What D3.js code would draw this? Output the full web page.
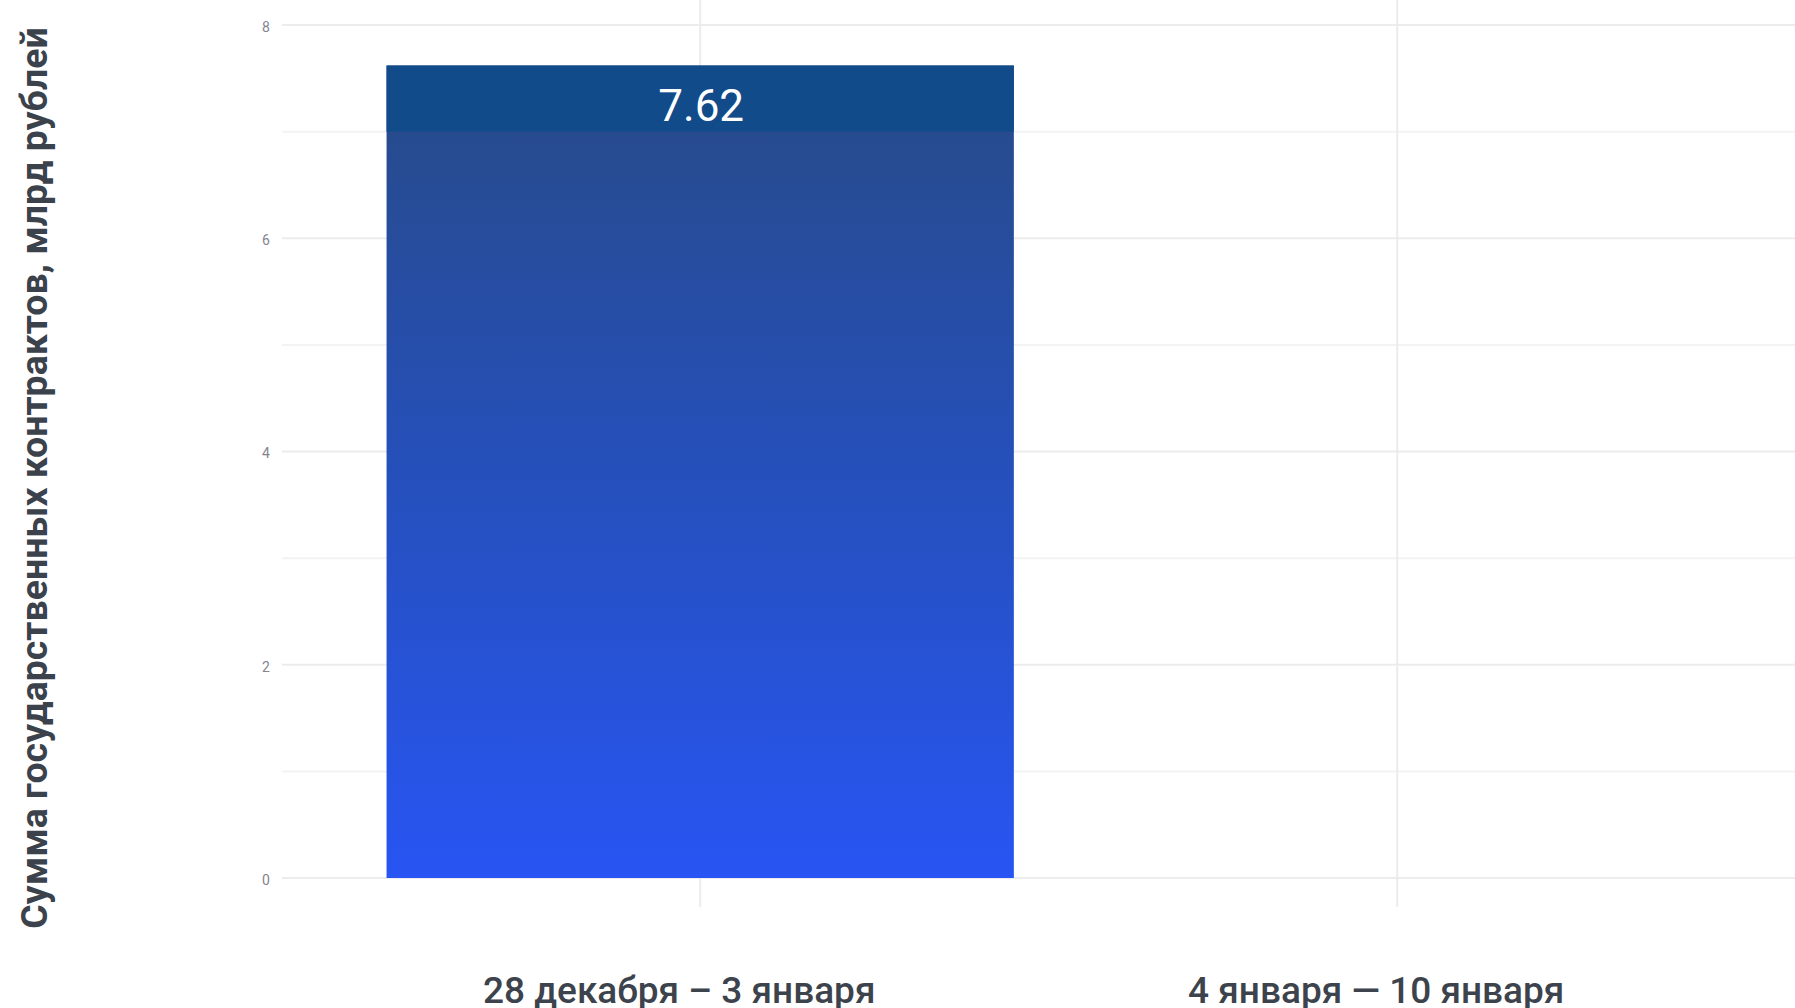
<!DOCTYPE html>
<html><head><meta charset="utf-8">
<script src="https://cdn.jsdelivr.net/npm/d3@7/dist/d3.min.js"></script>
<style>
html,body{margin:0;padding:0;background:#fff;overflow:hidden;}
svg{display:block;}
</style></head>
<body>
<script>
const categories = ["28 декабря – 3 января", "4 января — 10 января"];
const values = [7.62, 0];
const valueLabels = ["7.62", ""];
const yTicks = [0, 2, 4, 6, 8];
const yMinorTicks = [1, 3, 5, 7];
const yTitle = "Сумма государственных контрактов, млрд рублей";
const darkBandFrom = 7;

const W = 1795, H = 1008;
const svg = d3.select("body").append("svg").attr("width", W).attr("height", H);

const y = d3.scaleLinear().domain([0, 8]).range([878, 25]);
const step = 697;
const x = d3.scaleBand().domain(categories)
  .range([282 + 0.6*step - step/2, 282 + 0.6*step - step/2 + step*categories.length])
  .paddingInner(0.1).paddingOuter(0.05);

const defs = svg.append("defs");
const grad = defs.append("linearGradient").attr("id","barGrad")
  .attr("x1",0).attr("y1",0).attr("x2",0).attr("y2",1);
grad.append("stop").attr("offset","0%").attr("stop-color","#284a86");
grad.append("stop").attr("offset","50%").attr("stop-color","#2550bb");
grad.append("stop").attr("offset","100%").attr("stop-color","#2855f3");

const gridG = svg.append("g");
gridG.selectAll("line.minor").data(yMinorTicks).join("line")
  .attr("x1", 282).attr("x2", W).attr("y1", d=>y(d)).attr("y2", d=>y(d))
  .attr("stroke", "#f3f3f3").attr("stroke-width", 2);
gridG.selectAll("line.major").data(yTicks).join("line")
  .attr("x1", 282).attr("x2", W).attr("y1", d=>y(d)).attr("y2", d=>y(d))
  .attr("stroke", "#ececec").attr("stroke-width", 2.2);
gridG.selectAll("line.v").data(categories).join("line")
  .attr("x1", d=>x(d)+x.bandwidth()/2).attr("x2", d=>x(d)+x.bandwidth()/2)
  .attr("y1", 0).attr("y2", 907)
  .attr("stroke", "#ececec").attr("stroke-width", 2);

const yAxis = d3.axisLeft(y).tickValues(yTicks).tickSize(0).tickPadding(0);
const yg = svg.append("g").attr("transform","translate(270,2)").call(yAxis);
yg.select(".domain").remove();
yg.selectAll("text").attr("font-family","Roboto, sans-serif").attr("font-size",14)
  .attr("fill","#84848f").attr("text-anchor","middle").attr("x",-4);

const bars = svg.append("g");
bars.selectAll("rect.bar").data(values).join("rect")
  .attr("x", (d,i)=>x(categories[i]))
  .attr("width", x.bandwidth())
  .attr("y", d=>y(d))
  .attr("height", d=>y(0)-y(d))
  .attr("fill", "url(#barGrad)");
bars.selectAll("rect.top").data(values.filter(v=>v>darkBandFrom)).join("rect")
  .attr("x", d=>x(categories[values.indexOf(d)]))
  .attr("width", x.bandwidth())
  .attr("y", d=>y(d))
  .attr("height", d=>y(darkBandFrom)-y(d))
  .attr("fill", "#114b8a");

svg.append("g").selectAll("text").data(values).join("text")
  .attr("x", (d,i)=>x(categories[i])+x.bandwidth()/2+1)
  .attr("y", d=>y(d)+55)
  .attr("text-anchor","middle")
  .attr("font-family","Roboto, sans-serif").attr("font-size",44)
  .attr("fill","#ffffff")
  .text((d,i)=>valueLabels[i]);

const xAxis = d3.axisBottom(x).tickSize(0).tickPadding(0);
const xg = svg.append("g").attr("transform","translate(-21,1003)").call(xAxis);
xg.select(".domain").remove();
xg.selectAll("text").attr("font-family","Roboto, sans-serif").attr("font-size",37)
  .attr("font-weight",500).attr("fill","#3c434c").attr("dy",0).attr("y",0);

svg.append("text")
  .attr("transform","translate(47,478) rotate(-90)")
  .attr("text-anchor","middle")
  .attr("font-family","Roboto, sans-serif").attr("font-size",37.5).attr("font-weight",700)
  .attr("fill","#3b424c")
  .text(yTitle);
</script>
</body></html>
